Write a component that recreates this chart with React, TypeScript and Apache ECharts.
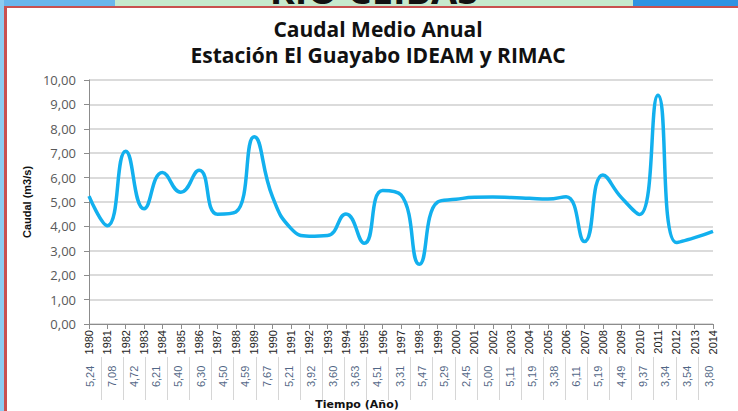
import React, { useEffect, useRef } from "react";
import * as echarts from "echarts";

const years = [
  "1980", "1981", "1982", "1983", "1984", "1985", "1986", "1987", "1988", "1989",
  "1990", "1991", "1992", "1993", "1994", "1995", "1996", "1997", "1998", "1999",
  "2000", "2001", "2002", "2003", "2004", "2005", "2006", "2007", "2008", "2009",
  "2010", "2011", "2012", "2013", "2014",
];

const caudal = [
  5.24, 4.03, 7.08, 4.72, 6.21, 5.4, 6.3, 4.5, 4.59, 7.67,
  5.21, 3.92, 3.6, 3.63, 4.51, 3.31, 5.47, 5.29, 2.45, 5.0,
  5.11, 5.19, 5.2, 5.18, 5.15, 5.12, 5.22, 3.38, 6.11, 5.19,
  4.49, 9.37, 3.34, 3.54, 3.8,
];

const tableValues = [
  "5,24", "7,08", "4,72", "6,21", "5,40", "6,30", "4,50", "4,59", "7,67", "5,21",
  "3,92", "3,60", "3,63", "4,51", "3,31", "5,47", "5,29", "2,45", "5,00", "5,11",
  "5,19", "3,38", "6,11", "5,19", "4,49", "9,37", "3,34", "3,54", "3,80",
];

const titleLine1 = "Caudal Medio Anual";
const titleLine2 = "Estación El Guayabo IDEAM y RIMAC";
const yAxisName = "Caudal (m3/s)";
const xAxisName = "Tiempo (Año)";
const bannerText = "RIO CEIBAS";

export default function App() {
  const ref = useRef<HTMLDivElement>(null);
  useEffect(() => {
    if (!ref.current) return;
    const chart = echarts.init(ref.current, null, { renderer: "svg" });
    const sans = "'Liberation Sans', Arial, sans-serif";
    const titleStyle = {
      fontFamily: "'Open Sans'",
      fontWeight: "bold",
      fontSize: 21,
      lineHeight: 26,
      color: "#111111",
    };
    chart.setOption({
      animation: false,
      backgroundColor: "#ffffff",
      title: {
        text: titleLine1,
        subtext: titleLine2,
        left: 378,
        top: 16,
        padding: 0,
        itemGap: 0,
        textAlign: "center",
        textStyle: titleStyle,
        subtextStyle: titleStyle,
      },
      grid: [
        { left: 89, right: 25, top: 80, height: 244 },
        { left: 79, width: 641, top: 357, height: 43 },
      ],
      xAxis: [
        {
          type: "category",
          gridIndex: 0,
          data: years,
          boundaryGap: false,
          axisLine: { show: true, lineStyle: { color: "#8c8c8c", width: 1 } },
          axisTick: { show: true, length: 5, interval: 0, lineStyle: { color: "#8c8c8c" } },
          axisLabel: {
            interval: 0,
            rotate: 90,
            margin: 6,
            fontFamily: sans,
            fontSize: 11,
            color: "#222222",
          },
          splitLine: { show: false },
        },
        {
          type: "category",
          gridIndex: 1,
          data: tableValues,
          boundaryGap: true,
          axisLine: { show: false },
          axisTick: { show: false },
          axisLabel: { show: false },
          splitLine: {
            show: true,
            interval: 0,
            showMinLine: false,
            showMaxLine: false,
            lineStyle: { color: "#d6d6d6", width: 1 },
          },
        },
      ],
      yAxis: [
        {
          type: "value",
          gridIndex: 0,
          min: 0,
          max: 10,
          interval: 1,
          name: yAxisName,
          nameLocation: "middle",
          nameGap: 56,
          nameTextStyle: {
            fontFamily: sans,
            fontWeight: "bold",
            fontSize: 11,
            color: "#111111",
          },
          axisLine: { show: true, lineStyle: { color: "#8c8c8c", width: 1 } },
          axisTick: { show: true, length: 5, lineStyle: { color: "#8c8c8c" } },
          axisLabel: {
            margin: 13,
            fontFamily: "'Open Sans'",
            fontSize: 13,
            color: "#595959",
            formatter: (v: number) => v.toFixed(2).replace(".", ","),
          },
          splitLine: { show: true, lineStyle: { color: "#cfcfcf", width: 1.5 } },
        },
        { type: "value", gridIndex: 1, show: false, min: 0, max: 1 },
      ],
      series: [
        {
          type: "line",
          xAxisIndex: 0,
          yAxisIndex: 0,
          data: caudal,
          smooth: 0.5,
          symbol: "none",
          lineStyle: { color: "#12b0ee", width: 3.5 },
        },
        {
          type: "scatter",
          xAxisIndex: 1,
          yAxisIndex: 1,
          data: tableValues.map((_v, i) => [i, 0.55]),
          symbolSize: 0,
          silent: true,
          label: {
            show: true,
            position: "inside",
            rotate: 90,
            formatter: (p: any) => tableValues[p.dataIndex],
            fontFamily: sans,
            fontSize: 11,
            color: "#1f3d66",
          },
        },
      ],
      graphic: [
        { type: "rect", shape: { x: 0, y: 0, width: 115, height: 7 }, style: { fill: "#6ab6ec" } },
        { type: "rect", shape: { x: 115, y: 0, width: 518, height: 7 }, style: { fill: "#c6e9cd" } },
        { type: "rect", shape: { x: 633, y: 0, width: 105, height: 7 }, style: { fill: "#2f93e2" } },
        {
          type: "text",
          x: 374,
          y: 8,
          style: {
            text: bannerText,
            fontFamily: "'Open Sans'",
            fontWeight: "bold",
            fontSize: 38,
            fill: "#111111",
            align: "center",
            verticalAlign: "bottom",
          },
        },
        { type: "rect", shape: { x: 0, y: 0, width: 4, height: 411 }, style: { fill: "#8ccbf0" } },
        { type: "rect", shape: { x: 4, y: 6, width: 734, height: 2 }, style: { fill: "#c9504f" } },
        { type: "rect", shape: { x: 4, y: 6, width: 3, height: 405 }, style: { fill: "#c9504f" } },
        {
          type: "text",
          x: 357,
          y: 404,
          style: {
            text: xAxisName,
            fontFamily: "'DejaVu Sans'",
            fontWeight: "bold",
            fontSize: 11,
            fill: "#111111",
            align: "center",
            verticalAlign: "middle",
          },
        },
      ],
    });
    return () => chart.dispose();
  }, []);
  return (
    <div
      ref={ref}
      style={{ position: "absolute", left: 0, top: 0, width: 738, height: 411 }}
    />
  );
}
